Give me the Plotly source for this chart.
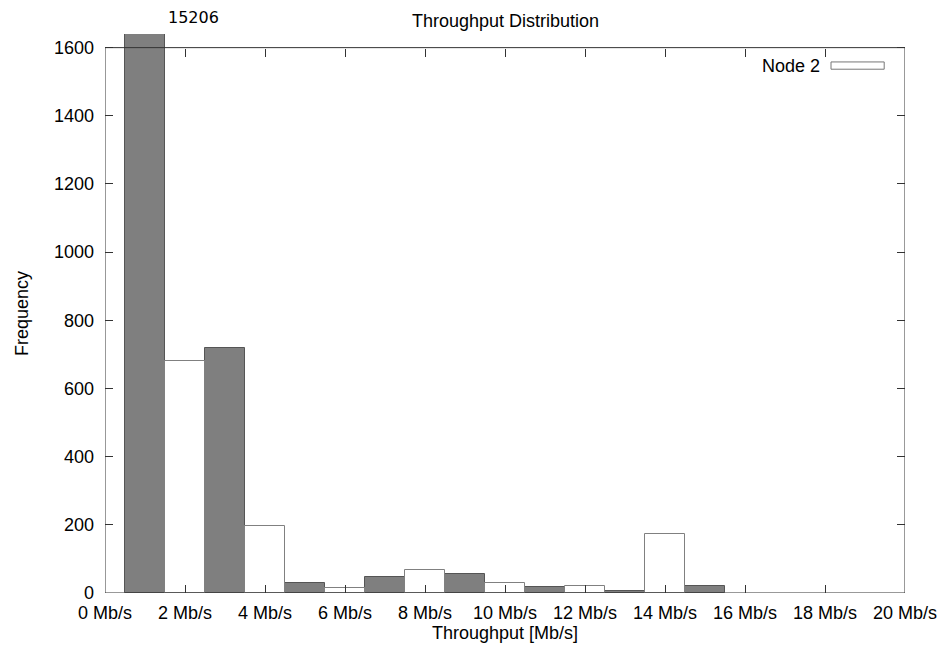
import plotly.graph_objects as go

# Histogram bins of 1 Mb/s; the two series alternate along the axis
gray_centers = [1, 3, 5, 7, 9, 11, 13, 15]
gray_counts = [15206, 720, 30, 48, 57, 18, 5, 21]

node2_centers = [2, 4, 6, 8, 10, 12, 14]
node2_counts = [680, 196, 15, 68, 30, 21, 172]

x_tick_vals = [0, 2, 4, 6, 8, 10, 12, 14, 16, 18, 20]
x_tick_text = [f"{v} Mb/s" for v in x_tick_vals]
y_tick_vals = [0, 200, 400, 600, 800, 1000, 1200, 1400, 1600]

Y_MAX = 1600      # top of the frame
Y_VIEW = 1640     # headroom so the off-scale bar pokes out of the frame
X_MAX = 20

FONT = "Liberation Sans, Arial, Helvetica, sans-serif"
FRAME = "#333333"
TXT = "#000000"
FS = 18

fig = go.Figure()
fig.add_trace(go.Bar(
    x=gray_centers, y=gray_counts, width=1,
    marker=dict(color="#7f7f7f", line=dict(color="#555555", width=1)),
    showlegend=False, name="",
))
fig.add_trace(go.Bar(
    x=node2_centers, y=node2_counts, width=1,
    marker=dict(color="#ffffff", line=dict(color="#808080", width=1)),
    showlegend=False, name="Node 2",
))

# Frame of the plot (stops at the 1600 line)
fig.add_shape(type="rect", xref="x", yref="y", x0=0, x1=X_MAX, y0=0, y1=Y_MAX,
              line=dict(color=FRAME, width=1), layer="above")

# Off-scale value label above the first bar
fig.add_annotation(x=2.2, y=1.0, xref="x", yref="paper",
                   text=str(gray_counts[0]), showarrow=False, yanchor="bottom",
                   yshift=5, font=dict(family="DejaVu Sans", size=16, color=TXT))

# Key: text on the left, sample box on the right
fig.add_annotation(x=0.896, y=0.943, xref="paper", yref="paper", text="Node 2",
                   showarrow=False, xanchor="right", yanchor="middle",
                   font=dict(family=FONT, size=FS, color=TXT))
fig.add_shape(type="rect", xref="paper", yref="paper",
              x0=0.9075, x1=0.974, y0=0.937, y1=0.950,
              line=dict(color="#777777", width=1), fillcolor="white")

fig.update_layout(
    width=941, height=652,
    margin=dict(l=105, r=36, t=34, b=59, autoexpand=False),
    paper_bgcolor="white", plot_bgcolor="white",
    barmode="overlay", bargap=0,
    title=dict(text="Throughput Distribution", x=0.5372, xanchor="center",
               y=0.968, yanchor="middle", automargin=False,
               font=dict(family=FONT, size=FS, color=TXT)),
    font=dict(family=FONT, size=FS, color=TXT),
    xaxis=dict(range=[0, X_MAX], tickvals=x_tick_vals, ticktext=x_tick_text,
               ticks="inside", ticklen=8, tickcolor=FRAME, showgrid=False,
               zeroline=False, showline=False, ticklabelstandoff=7,
               automargin=False,
               title=dict(text="Throughput [Mb/s]", standoff=0,
                          font=dict(family=FONT, size=FS))),
    xaxis2=dict(range=[0, X_MAX], overlaying="x", side="top", anchor="free",
                position=Y_MAX / Y_VIEW, tickvals=x_tick_vals, showticklabels=False,
                ticks="inside", ticklen=8, tickcolor=FRAME, showgrid=False,
                zeroline=False, showline=False, automargin=False),
    yaxis=dict(range=[0, Y_VIEW], tickvals=y_tick_vals, ticks="inside",
               ticklen=8, tickcolor=FRAME, mirror="ticks", showgrid=False,
               zeroline=False, showline=False, ticklabelstandoff=10,
               automargin=False,
               title=dict(text="Frequency", standoff=20,
                          font=dict(family=FONT, size=FS))),
)
# Empty trace so the top tick axis is laid out
fig.add_trace(go.Scatter(x=[], y=[], xaxis="x2", showlegend=False))

fig.write_html("out.html")
